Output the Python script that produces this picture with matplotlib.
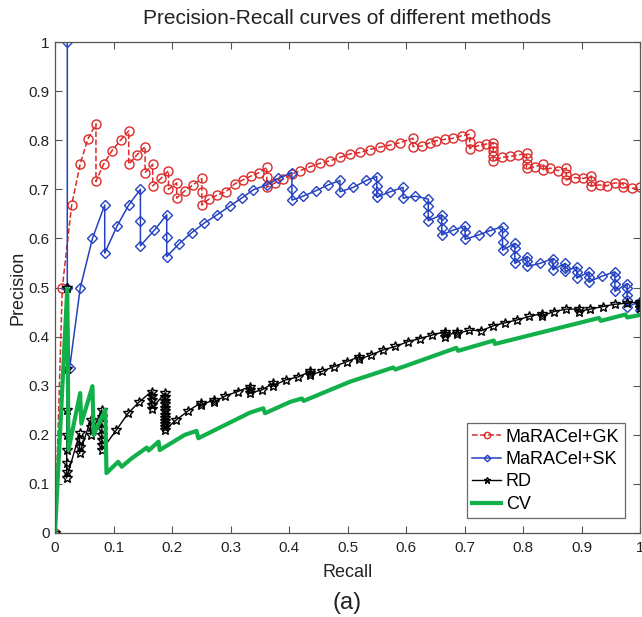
import matplotlib
matplotlib.use("Agg")
import matplotlib.pyplot as plt

plt.rcParams['font.family'] = ['Liberation Sans', 'DejaVu Sans']

# ---------------- data ----------------
gk_recall = [0, 0.0125, 0.0285, 0.043, 0.056, 0.070, 0.070, 0.083, 0.097, 0.112, 0.126, 0.126,
             0.140, 0.154, 0.154, 0.167, 0.167, 0.181, 0.194, 0.194, 0.208, 0.208, 0.222, 0.236,
             0.251, 0.251, 0.251, 0.263, 0.277, 0.292, 0.307, 0.321, 0.335, 0.349, 0.362, 0.362,
             0.362, 0.376, 0.390, 0.405, 0.419, 0.436, 0.453, 0.470, 0.487, 0.504, 0.521, 0.538,
             0.556, 0.573, 0.590, 0.612, 0.612, 0.627, 0.641, 0.652, 0.667, 0.681, 0.695, 0.709,
             0.709, 0.709, 0.724, 0.737, 0.749, 0.749, 0.749, 0.749, 0.749, 0.764, 0.778, 0.792,
             0.806, 0.806, 0.806, 0.806, 0.821, 0.835, 0.835, 0.847, 0.860, 0.874, 0.874, 0.874,
             0.889, 0.903, 0.917, 0.917, 0.917, 0.932, 0.943, 0.957, 0.971, 0.971, 0.986, 1.0]
gk_precision = [0, 0.500, 0.668, 0.751, 0.802, 0.833, 0.716, 0.751, 0.778, 0.800, 0.819, 0.751,
                0.770, 0.787, 0.734, 0.751, 0.707, 0.722, 0.738, 0.700, 0.713, 0.682, 0.697, 0.709,
                0.722, 0.695, 0.668, 0.680, 0.688, 0.695, 0.711, 0.719, 0.727, 0.734, 0.745, 0.726,
                0.704, 0.713, 0.721, 0.731, 0.738, 0.746, 0.753, 0.758, 0.765, 0.772, 0.775, 0.781,
                0.786, 0.790, 0.795, 0.804, 0.787, 0.788, 0.795, 0.799, 0.802, 0.804, 0.809, 0.812,
                0.797, 0.783, 0.789, 0.792, 0.795, 0.787, 0.777, 0.767, 0.758, 0.765, 0.767, 0.770,
                0.773, 0.763, 0.752, 0.743, 0.746, 0.752, 0.740, 0.743, 0.738, 0.743, 0.731, 0.719,
                0.724, 0.722, 0.727, 0.716, 0.707, 0.709, 0.707, 0.713, 0.712, 0.704, 0.702, 0.704]

sk_recall = [0.021, 0.021, 0.025, 0.043, 0.064, 0.085, 0.085, 0.106, 0.126, 0.146, 0.146, 0.146,
             0.170, 0.191, 0.191, 0.191, 0.212, 0.234, 0.255, 0.277, 0.299, 0.319, 0.339, 0.362,
             0.382, 0.405, 0.405, 0.405, 0.424, 0.446, 0.467, 0.487, 0.487, 0.510, 0.532, 0.550,
             0.550, 0.550, 0.550, 0.573, 0.595, 0.595, 0.616, 0.638, 0.638, 0.638, 0.638, 0.661,
             0.661, 0.661, 0.661, 0.681, 0.701, 0.701, 0.701, 0.724, 0.744, 0.765, 0.765, 0.765,
             0.765, 0.786, 0.786, 0.786, 0.786, 0.807, 0.807, 0.807, 0.829, 0.851, 0.851, 0.851,
             0.872, 0.872, 0.872, 0.892, 0.892, 0.892, 0.913, 0.913, 0.913, 0.935, 0.957, 0.957,
             0.957, 0.957, 0.978, 0.978, 0.978, 0.978, 0.978, 1.0, 1.0, 1.0]
sk_precision = [1.000, 0.500, 0.336, 0.498, 0.600, 0.668, 0.570, 0.625, 0.668, 0.700, 0.636, 0.585,
                0.617, 0.648, 0.602, 0.563, 0.589, 0.612, 0.631, 0.648, 0.666, 0.682, 0.699, 0.709,
                0.722, 0.734, 0.700, 0.678, 0.686, 0.697, 0.709, 0.718, 0.695, 0.704, 0.718, 0.726,
                0.707, 0.695, 0.684, 0.695, 0.704, 0.682, 0.686, 0.680, 0.665, 0.650, 0.636, 0.648,
                0.637, 0.622, 0.607, 0.617, 0.625, 0.614, 0.598, 0.607, 0.616, 0.624, 0.610, 0.593,
                0.576, 0.590, 0.580, 0.565, 0.549, 0.563, 0.553, 0.543, 0.549, 0.559, 0.549, 0.536,
                0.549, 0.539, 0.533, 0.542, 0.532, 0.519, 0.532, 0.522, 0.512, 0.523, 0.532, 0.522,
                0.507, 0.492, 0.508, 0.498, 0.485, 0.475, 0.461, 0.471, 0.462, 0.454]

rd_recall = [0, 0.020, 0.020, 0.020, 0.020, 0.020, 0.020, 0.020, 0.020, 0.042, 0.042, 0.042, 0.042,
             0.061, 0.061, 0.061, 0.080, 0.080, 0.080, 0.080, 0.080, 0.080, 0.080, 0.080, 0.105,
             0.125, 0.144, 0.165, 0.165, 0.165, 0.165, 0.165, 0.188, 0.188, 0.188, 0.188, 0.188,
             0.188, 0.188, 0.188, 0.188, 0.188, 0.188, 0.188, 0.207, 0.228, 0.249, 0.249, 0.271,
             0.271, 0.291, 0.312, 0.333, 0.333, 0.333, 0.353, 0.373, 0.373, 0.395, 0.416, 0.436,
             0.436, 0.436, 0.456, 0.477, 0.499, 0.520, 0.520, 0.541, 0.561, 0.582, 0.604, 0.624,
             0.644, 0.666, 0.666, 0.666, 0.687, 0.687, 0.708, 0.729, 0.749, 0.769, 0.790, 0.811,
             0.832, 0.832, 0.853, 0.874, 0.895, 0.895, 0.915, 0.936, 0.957, 0.978, 1.0, 1.0, 1.0]
rd_precision = [0, 0.500, 0.333, 0.251, 0.200, 0.169, 0.143, 0.125, 0.112, 0.203, 0.189, 0.175, 0.162,
                0.230, 0.215, 0.200, 0.251, 0.237, 0.224, 0.212, 0.200, 0.190, 0.180, 0.169, 0.210,
                0.244, 0.267, 0.288, 0.279, 0.270, 0.261, 0.253, 0.285, 0.277, 0.269, 0.262, 0.255,
                0.248, 0.241, 0.234, 0.228, 0.222, 0.216, 0.210, 0.230, 0.249, 0.265, 0.260, 0.271,
                0.266, 0.279, 0.288, 0.298, 0.291, 0.285, 0.291, 0.305, 0.300, 0.312, 0.318, 0.329,
                0.325, 0.322, 0.329, 0.339, 0.349, 0.359, 0.354, 0.363, 0.373, 0.380, 0.390, 0.396,
                0.403, 0.410, 0.405, 0.400, 0.410, 0.406, 0.413, 0.412, 0.422, 0.428, 0.434, 0.441,
                0.447, 0.442, 0.451, 0.456, 0.456, 0.451, 0.456, 0.461, 0.466, 0.468, 0.471, 0.464, 0.458]

cv_recall = [0, 0.021, 0.023, 0.043, 0.045, 0.064, 0.066, 0.086, 0.088, 0.108, 0.114, 0.131,
             0.157, 0.160, 0.177, 0.179, 0.222, 0.242, 0.245, 0.333, 0.356, 0.359, 0.402, 0.422,
             0.425, 0.504, 0.578, 0.582, 0.686, 0.689, 0.750, 0.752, 0.930, 0.933, 0.975, 0.978, 1.0]
cv_precision = [0, 0.498, 0.169, 0.285, 0.223, 0.299, 0.200, 0.251, 0.122, 0.145, 0.135, 0.152,
                0.174, 0.168, 0.186, 0.169, 0.200, 0.208, 0.193, 0.245, 0.254, 0.244, 0.267, 0.274,
                0.269, 0.308, 0.337, 0.333, 0.377, 0.371, 0.392, 0.385, 0.438, 0.432, 0.445, 0.439, 0.444]

labels = ['MaRACel+GK', 'MaRACel+SK', 'RD', 'CV']
x_ticks = [0, 0.1, 0.2, 0.3, 0.4, 0.5, 0.6, 0.7, 0.8, 0.9, 1]
x_tick_labels = ['0', '0.1', '0.2', '0.3', '0.4', '0.5', '0.6', '0.7', '0.8', '0.9', '1']
y_ticks = x_ticks
y_tick_labels = x_tick_labels

# ---------------- figure ----------------
fig = plt.figure(figsize=(6.42, 6.17), dpi=100)
ax = fig.add_axes([55/642, 1-533/617, 585/642, 491/617])

red = '#dd2a2a'
blue = '#2442c0'
green = '#12b04a'

ax.plot(gk_recall, gk_precision, linestyle='--', color=red, lw=1.1, marker='o',
        ms=6.5, mfc='none', mec=red, mew=1.0, label=labels[0])
ax.plot(sk_recall, sk_precision, linestyle='-', color=blue, lw=1.1, marker='D',
        ms=4.8, mfc='none', mec=blue, mew=1.0, label=labels[1])
ax.plot(rd_recall, rd_precision, linestyle='-', color='black', lw=1.0, marker='*',
        ms=7, mfc='none', mec='black', mew=1.0, label=labels[2])
ax.plot(cv_recall, cv_precision, linestyle='-', color=green, lw=3.0, label=labels[3])

ax.set_xlim(0, 1)
ax.set_ylim(0, 1)
ax.set_xticks(x_ticks)
ax.set_xticklabels(x_tick_labels)
ax.set_yticks(y_ticks)
ax.set_yticklabels(y_tick_labels)
ax.tick_params(direction='in', top=True, right=True, length=5, width=0.8,
               colors='#555555', labelcolor='#222222', labelsize=11)
ax.tick_params(axis='x', pad=6)
ax.tick_params(axis='y', pad=4)
for s in ax.spines.values():
    s.set_color('#555555')
    s.set_linewidth(0.9)

ax.set_title('Precision-Recall curves of different methods', fontsize=15,
             color='#222222', pad=13)
ax.set_xlabel('Recall', fontsize=13, color='#222222', labelpad=6)
ax.set_ylabel('Precision', fontsize=13, color='#222222', labelpad=1)

leg = ax.legend(loc='lower right', bbox_to_anchor=(0.974, 0.03), borderaxespad=0,
                fontsize=13, frameon=True, fancybox=False, handlelength=1.6,
                handletextpad=0.25, labelspacing=0.3, borderpad=0.3, markerscale=0.7)
leg.get_frame().set_edgecolor('#444444')
leg.get_frame().set_linewidth(0.9)

fig.text(347/642, 1-603/617, '(a)', fontsize=17, ha='center', va='center', color='#222222')

fig.savefig('out.png', dpi=100)
